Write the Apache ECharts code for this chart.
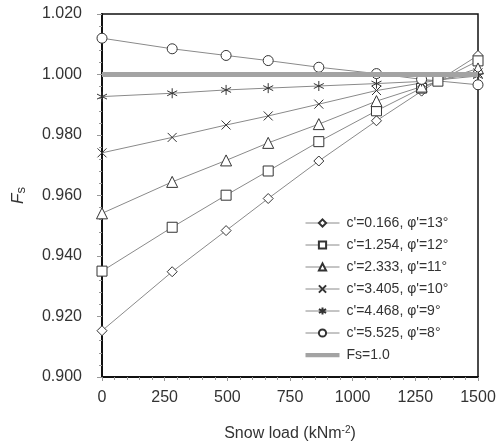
<!DOCTYPE html>
<html>
<head>
<meta charset="utf-8">
<script src="https://cdn.jsdelivr.net/npm/echarts@6/dist/echarts.min.js"></script>
<style>
  html, body { margin: 0; padding: 0; background: #fff; }
  #main { width: 500px; height: 447px; }
</style>
</head>
<body>
<div id="main"></div>
<script>
// snow load positions (kN/m2)
var loads = [0, 280, 495, 663, 865, 1095, 1275, 1340, 1500];

// Fs for every case, null where the case has no marker
var fsC0166 = [0.9153, 0.9348, 0.9484, 0.9590, 0.9714, 0.9847, 0.9945, null, 1.0063];
var fsC1254 = [0.9350, 0.9495, 0.9601, 0.9681, 0.9778, 0.9880, 0.9955, 0.9978, 1.0045];
var fsC2333 = [0.9541, 0.9645, 0.9716, 0.9774, 0.9836, 0.9912, 0.9960, null, 1.0020];
var fsC3405 = [0.9741, 0.9792, 0.9833, 0.9863, 0.9902, 0.9947, 0.9972, null, 1.0005];
var fsC4468 = [0.9927, 0.9938, 0.9949, 0.9955, 0.9962, 0.9970, 0.9977, null, 0.9995];
var fsC5525 = [1.0120, 1.0085, 1.0063, 1.0046, 1.0024, 1.0003, 0.9984, null, 0.9966];

var caseNames = [
  "c'=0.166, φ'=13°",
  "c'=1.254, φ'=12°",
  "c'=2.333, φ'=11°",
  "c'=3.405, φ'=10°",
  "c'=4.468, φ'=9°",
  "c'=5.525, φ'=8°"
];
var caseValues = [fsC0166, fsC1254, fsC2333, fsC3405, fsC4468, fsC5525];
var caseSymbols = [
  'diamond',
  'rect',
  'triangle',
  'path://M0,0L10,10M10,0L0,10',
  'path://M5,0L5,10M0,2.5L10,7.5M0,7.5L10,2.5',
  'circle'
];
var caseSizes = [10, 10, 11, 9, 10, 10];

var lineGrey = '#8a8a8a';
var refGrey = '#a3a3a3';

function pairs(ys) {
  var out = [];
  for (var i = 0; i < loads.length; i++) {
    if (ys[i] !== null) out.push([loads[i], ys[i]]);
  }
  return out;
}

var series = [];
var legendData = [];
for (var k = 0; k < caseNames.length; k++) {
  series.push({
    name: caseNames[k],
    type: 'line',
    data: pairs(caseValues[k]),
    symbol: caseSymbols[k],
    symbolSize: caseSizes[k],
    showAllSymbol: true,
    lineStyle: { color: lineGrey, width: 1 },
    itemStyle: { color: '#fff', borderColor: '#333', borderWidth: 1 },
    z: 3
  });
  legendData.push({ name: caseNames[k], lineStyle: { color: lineGrey, width: 1 } });
}
series.push({
  name: 'Fs=1.0',
  type: 'line',
  data: [[0, 1.0], [1500, 1.0]],
  symbol: 'none',
  lineStyle: { color: refGrey, width: 5 },
  itemStyle: { color: refGrey },
  z: 4
});
legendData.push({
  name: 'Fs=1.0',
  icon: 'path://M0,0L40,0L40,5L0,5Z',
  itemStyle: { color: refGrey, borderWidth: 0 }
});

var myChart = echarts.init(document.getElementById('main'));
var option = {
  animation: false,
  grid: {
    left: 102, right: 22, top: 14, bottom: 67,
    show: true, borderColor: '#111', borderWidth: 1.5, backgroundColor: 'transparent'
  },
  legend: {
    orient: 'vertical',
    left: 300,
    top: 211,
    itemWidth: 34,
    itemHeight: 9,
    itemGap: 8,
    textStyle: { fontFamily: 'Liberation Sans', fontSize: 14, color: '#333', padding: [0, 0, 0, 2] },
    data: legendData
  },
  xAxis: {
    type: 'value',
    min: 0, max: 1500, interval: 250,
    name: '{t|Snow load (kNm}{u|-2}{t|)}',
    nameLocation: 'middle',
    nameGap: 48,
    nameTextStyle: {
      rich: {
        t: { fontFamily: 'Liberation Sans', fontSize: 16, color: '#333' },
        u: { fontFamily: 'Liberation Sans', fontSize: 10, color: '#333', verticalAlign: 'top', padding: [0, 0, 8, 0] }
      }
    },
    axisLine: { lineStyle: { color: '#111', width: 2 } },
    axisTick: { length: 4, lineStyle: { color: '#999' } },
    minorTick: { show: true, splitNumber: 5, length: 3, lineStyle: { color: '#999' } },
    splitLine: { show: false },
    axisLabel: {
      fontFamily: 'Liberation Sans', fontSize: 16, color: '#333', margin: 13,
      formatter: function (v) { return String(v); }
    }
  },
  yAxis: {
    type: 'value',
    min: 0.9, max: 1.02, interval: 0.02,
    name: '{f|F}{s|s}',
    nameLocation: 'middle',
    nameGap: 74,
    nameRotate: 90,
    nameTextStyle: {
      rich: {
        f: { fontFamily: 'Liberation Sans', fontStyle: 'italic', fontSize: 17, color: '#333' },
        s: { fontFamily: 'Liberation Sans', fontSize: 13, color: '#333', padding: [6, 0, 0, 0] }
      }
    },
    axisLine: { show: true, lineStyle: { color: '#111', width: 2 } },
    axisTick: { show: true, length: 5, lineStyle: { color: '#999' } },
    minorTick: { show: true, splitNumber: 5, length: 3, lineStyle: { color: '#999' } },
    splitLine: { show: false },
    axisLabel: {
      fontFamily: 'Liberation Sans', fontSize: 16, color: '#333', margin: 20,
      formatter: function (v) { return v.toFixed(3); }
    }
  },
  series: series
};
myChart.setOption(option);
</script>
</body>
</html>
